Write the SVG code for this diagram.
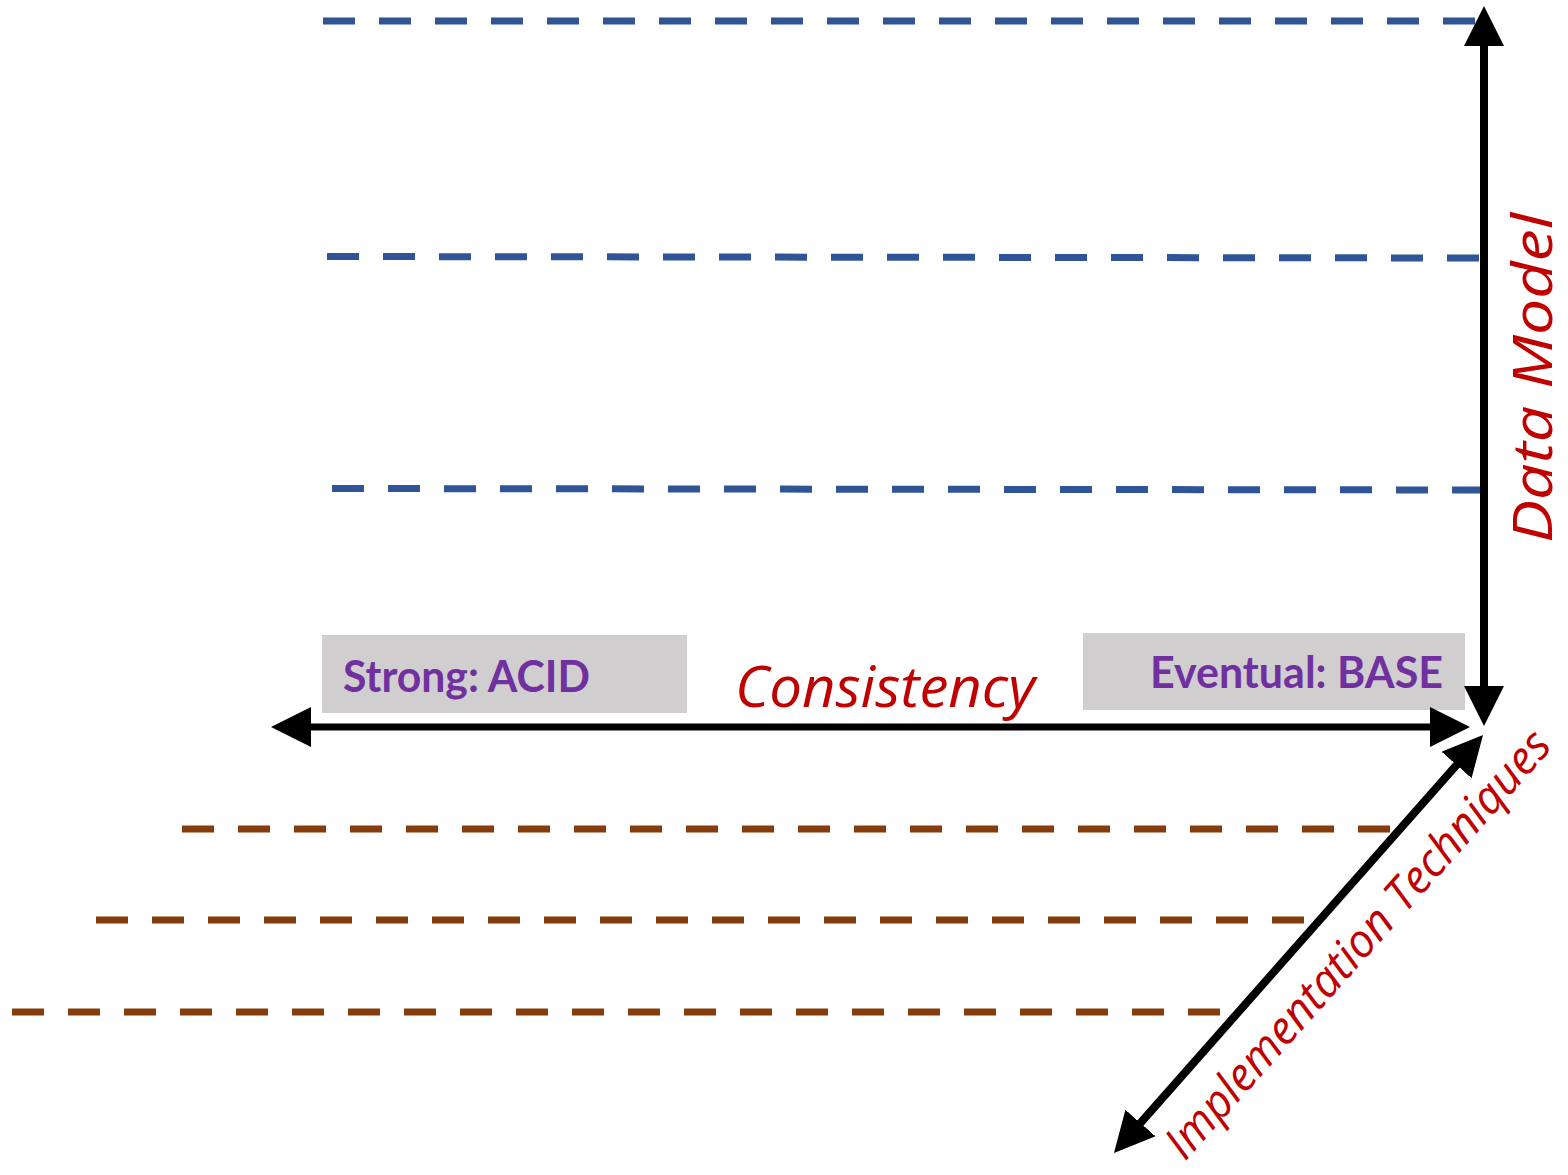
<svg xmlns="http://www.w3.org/2000/svg" width="1568" height="1175" viewBox="0 0 1568 1175">
  <style>
    .guide-blue { fill: none; stroke: #2F5597; stroke-width: 7; stroke-dasharray: 32 24; }
    .guide-brown { fill: none; stroke: #843C0C; stroke-width: 7; stroke-dasharray: 32 24; }
    .axis { fill: none; stroke: #000000; stroke-width: 8; marker-start: url(#head); marker-end: url(#head); }
    .box { fill: #D0CECE; }
    .box-label { font-family: Lato, "Open Sans", "Liberation Sans", sans-serif; font-weight: 700; font-size: 44px; fill: #7030A0; }
    .axis-label { font-family: "Open Sans", "Liberation Sans", sans-serif; font-style: italic; fill: #C00000; }
  </style>
  <defs>
    <marker id="head" markerUnits="userSpaceOnUse" markerWidth="40" markerHeight="40" viewBox="0 0 40 40" refX="20" refY="20" orient="auto-start-reverse">
      <path d="M0,0 L40,20 L0,40 Z" fill="#000000"/>
    </marker>
  </defs>

  <!-- data model levels -->
  <g id="data-model-levels">
    <line class="guide-blue" x1="323" y1="21" x2="1475" y2="21"/>
    <line class="guide-blue" x1="327" y1="256.5" x2="1479" y2="258"/>
    <line class="guide-blue" x1="332" y1="488.5" x2="1484" y2="490"/>
  </g>

  <!-- implementation technique levels -->
  <g id="implementation-levels">
    <line class="guide-brown" x1="182" y1="829" x2="1390" y2="829"/>
    <line class="guide-brown" x1="96" y1="920" x2="1304" y2="920"/>
    <line class="guide-brown" x1="12" y1="1012" x2="1220" y2="1012"/>
  </g>

  <!-- consistency end points -->
  <g id="strong-acid">
    <rect class="box" x="322" y="635" width="365" height="78"/>
    <text class="box-label" x="343" y="692" textLength="247" lengthAdjust="spacingAndGlyphs">Strong: ACID</text>
  </g>
  <g id="eventual-base">
    <rect class="box" x="1083" y="633" width="382" height="77"/>
    <text class="box-label" x="1150" y="688" textLength="293" lengthAdjust="spacingAndGlyphs">Eventual: BASE</text>
  </g>

  <!-- axes -->
  <g id="connectors">
    <line class="axis" x1="1484" y1="26" x2="1484" y2="706"/>
    <line class="axis" x1="291" y1="727" x2="1450" y2="727" style="stroke-width:7"/>
    <line class="axis" x1="1127.2" y1="1138" x2="1469.8" y2="750"/>
  </g>

  <!-- axis titles -->
  <g id="consistency-label">
    <text class="axis-label" x="735" y="707" font-size="57" textLength="300" lengthAdjust="spacingAndGlyphs">Consistency</text>
  </g>
  <g id="data-model-label">
    <text class="axis-label" transform="translate(1552,543) rotate(-90)" x="0" y="0" font-size="54" textLength="330" lengthAdjust="spacingAndGlyphs">Data Model</text>
  </g>
  <g id="implementation-label">
    <text class="axis-label" transform="translate(1185,1162) rotate(-48.4)" x="0" y="0" font-size="46" textLength="555" lengthAdjust="spacingAndGlyphs">Implementation Techniques</text>
  </g>
</svg>
